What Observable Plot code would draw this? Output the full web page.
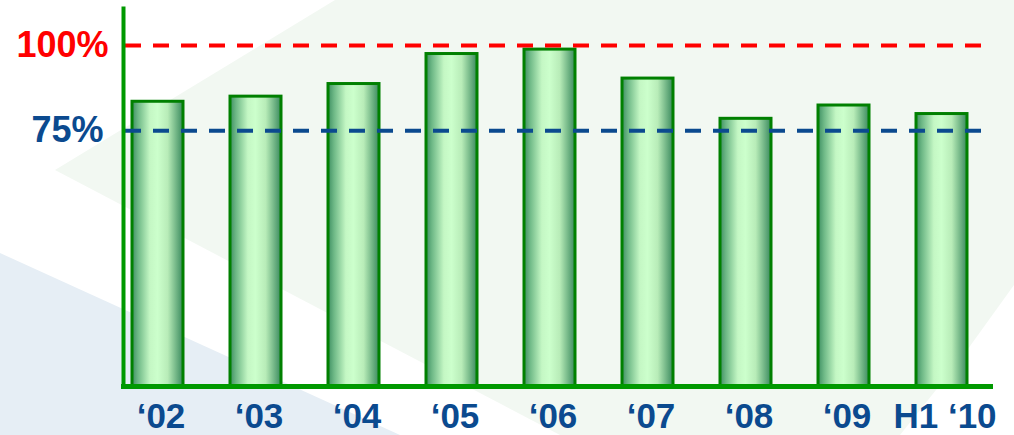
<!DOCTYPE html>
<html>
<head>
<meta charset="utf-8">
<script src="https://cdn.jsdelivr.net/npm/d3@7"></script>
<script src="https://cdn.jsdelivr.net/npm/@observablehq/plot@0.6"></script>
<style>
  html, body { margin: 0; padding: 0; background: #ffffff; }
  #wrap { position: relative; width: 1014px; height: 435px; overflow: hidden; }
  #bg { position: absolute; left: 0; top: 0; }
  #chart { position: absolute; left: 0; top: 0; }
  #chart svg { background: none !important; }
</style>
</head>
<body>
<div id="wrap">
  <svg id="bg" width="1014" height="435">
    <polygon points="335,0 1014,0 1014,285 960,360 900,435 560,435 55,170" fill="#f2f8f2"/>
    <polygon points="0,253 400,435 0,435" fill="#e6eef5"/>
  </svg>
  <div id="chart"></div>
</div>
<script>
// Data
const periods = ["\u201802", "\u201803", "\u201804", "\u201805", "\u201806", "\u201807", "\u201808", "\u201809", "H1 \u201810"];
const values  = [83.5, 85.0, 88.7, 97.5, 98.8, 90.3, 78.5, 82.4, 79.9];
const targetHigh = [100];
const targetLow = [75];
const highLabel = ["100%"];
const lowLabel = ["75%"];

const data = periods.map((p, i) => ({period: p, value: values[i]}));
const font = "'Liberation Sans', Arial, Helvetica, sans-serif";

const defs = () => {
  const ns = "http://www.w3.org/2000/svg";
  const d = document.createElementNS(ns, "defs");
  const g = document.createElementNS(ns, "linearGradient");
  g.setAttribute("id", "barGrad");
  g.setAttribute("x1", "0"); g.setAttribute("x2", "1");
  g.setAttribute("y1", "0"); g.setAttribute("y2", "0");
  [["0%", "#3f8f63"], ["12%", "#6fb987"], ["35%", "#c4f7c4"], ["50%", "#ccffcc"], ["70%", "#b8ecb8"], ["100%", "#3a8a5e"]].forEach(([o, c]) => {
    const s = document.createElementNS(ns, "stop");
    s.setAttribute("offset", o); s.setAttribute("stop-color", c);
    g.appendChild(s);
  });
  d.appendChild(g);
  return d;
};

const chart = Plot.plot({
  width: 1014,
  height: 435,
  marginTop: 8,
  marginBottom: 49,
  marginLeft: 123,
  marginRight: 24,
  style: {fontFamily: font, background: "none", overflow: "visible"},
  x: {domain: periods, range: [118, 980], paddingInner: 0.48, paddingOuter: 0.1, label: null},
  y: {domain: [0, 110.85], label: null},
  marks: [
    defs,
    Plot.barY(data, {x: "period", y: "value", fill: "url(#barGrad)", stroke: "#008000", strokeWidth: 3}),
    Plot.ruleY(targetHigh, {stroke: "#ff0000", strokeWidth: 4, strokeDasharray: "16,12", insetLeft: 2, insetRight: 8}),
    Plot.ruleY(targetLow, {stroke: "#0b4a8f", strokeWidth: 4, strokeDasharray: "16,12", insetLeft: 2, insetRight: 6}),
    Plot.frame({anchor: "left", stroke: "#009900", strokeWidth: 4}),
    Plot.frame({anchor: "bottom", stroke: "#009900", strokeWidth: 5}),
    Plot.axisX({tickSize: 0, tickPadding: 17, fontSize: 35, fontWeight: "bold", fill: "#0b4a8f", dx: 3}),
    Plot.axisY({ticks: targetHigh, tickFormat: (d, i) => highLabel[i], tickSize: 0, tickPadding: 15, fontSize: 36, fontWeight: "bold", fill: "#ff0000"}),
    Plot.axisY({ticks: targetLow, tickFormat: (d, i) => lowLabel[i], tickSize: 0, tickPadding: 20, fontSize: 36, fontWeight: "bold", fill: "#0b4a8f"})
  ]
});
document.getElementById("chart").appendChild(chart);
</script>
</body>
</html>
